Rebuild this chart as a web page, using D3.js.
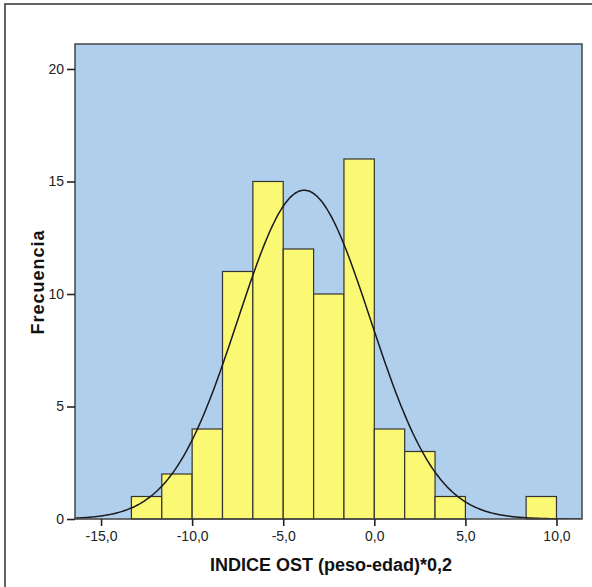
<!DOCTYPE html>
<html lang="es">
<head>
<meta charset="UTF-8">
<title>Histograma INDICE OST</title>
<script src="https://d3js.org/d3.v7.min.js"></script>
<style>
    body { margin: 0; background: #fff; }
    svg text { font-family: "Liberation Sans", Arial, sans-serif; }
    .axis text { font-size: 14px; fill: #222; }
    .axis line { stroke: #222; stroke-width: 1.6px; }
    .axis path { display: none; }
    .label { font-size: 18px; font-weight: bold; fill: #111; }
</style>
</head>
<body>
<svg id="canvas" width="592" height="587"></svg>
<script>
    // bins of 5/3 width, lower edges
    let binStart = [-13.333, -11.667, -10, -8.333, -6.667, -5, -3.333, -1.667, 0, 1.667, 3.333, 5, 6.667, 8.333];
    let binCount = [1, 2, 4, 11, 15, 12, 10, 16, 4, 3, 1, 0, 0, 1];
    let binWidth = 5 / 3;
    let xTicks = [-15, -10, -5, 0, 5, 10];
    let yTicks = [0, 5, 10, 15, 20];
    // normal curve parameters (media, desv. tip., N)
    let media = -3.85;
    let desv = 3.64;
    let nTotal = 80;

    let svg = d3.select('#canvas');
    let plotLeft = 75, plotRight = 582, plotTop = 44, plotBottom = 519;

    let xscale = d3.scaleLinear().domain([-16.43, 11.40]).range([plotLeft, plotRight]);
    let yscale = d3.scaleLinear().domain([0, 21.11]).range([plotBottom, plotTop]);

    // outer frame
    svg.append('rect')
        .attr('x', 5).attr('y', 4).attr('width', 620).attr('height', 620)
        .attr('fill', 'none').attr('stroke', '#333').attr('stroke-width', 1.5);

    svg.append('rect')
        .attr('x', plotLeft).attr('y', plotTop)
        .attr('width', plotRight - plotLeft).attr('height', plotBottom - plotTop)
        .attr('fill', '#AFCFED');

    svg.append('clipPath').attr('id', 'clip')
        .append('rect')
        .attr('x', plotLeft).attr('y', plotTop)
        .attr('width', plotRight - plotLeft).attr('height', plotBottom - plotTop);

    let bars = binStart.map(function (d, i) { return {x0: d, n: binCount[i]}; })
        .filter(function (d) { return d.n > 0; });

    svg.append('g').selectAll('rect')
        .data(bars)
        .enter()
        .append('rect')
        .attr('x', function (d) { return xscale(d.x0); })
        .attr('y', function (d) { return yscale(d.n); })
        .attr('width', function (d) { return xscale(d.x0 + binWidth) - xscale(d.x0); })
        .attr('height', function (d) { return yscale(0) - yscale(d.n); })
        .attr('fill', '#FBF873')
        .attr('stroke', '#333')
        .attr('stroke-width', 1.2);

    // normal curve from the mean and sd
    let xs = d3.range(0, 301).map(function (i) {
        return -16.43 + i * (11.40 + 16.43) / 300;
    });
    let curve = xs.map(function (x) {
        let z = (x - media) / desv;
        return {x: x, y: nTotal * binWidth / (desv * Math.sqrt(2 * Math.PI)) * Math.exp(-0.5 * z * z)};
    });
    let line_generator = d3.line()
        .x(function (d) { return xscale(d.x); })
        .y(function (d) { return yscale(d.y); })
        .curve(d3.curveBasis);
    svg.append('path')
        .attr('d', line_generator(curve))
        .attr('clip-path', 'url(#clip)')
        .attr('fill', 'none')
        .attr('stroke', '#1a1a1a')
        .attr('stroke-width', 1.5);

    // plot border
    svg.append('rect')
        .attr('x', plotLeft).attr('y', plotTop)
        .attr('width', plotRight - plotLeft).attr('height', plotBottom - plotTop)
        .attr('fill', 'none').attr('stroke', '#444').attr('stroke-width', 1.5);

    let comma = function (d) { return d3.format('.1f')(d).replace('.', ',').replace('−', '-'); };

    svg.append('g').attr('class', 'axis')
        .attr('transform', 'translate(0,' + plotBottom + ')')
        .call(d3.axisBottom(xscale).tickValues(xTicks).tickSize(7).tickPadding(5).tickFormat(comma));

    svg.append('g').attr('class', 'axis')
        .attr('transform', 'translate(' + plotLeft + ',0)')
        .call(d3.axisLeft(yscale).tickValues(yTicks).tickSize(8).tickPadding(3).tickFormat(d3.format('d')));

    svg.append('text').attr('class', 'label')
        .attr('x', 331).attr('y', 571)
        .attr('text-anchor', 'middle')
        .text('INDICE OST (peso-edad)*0,2');

    svg.append('text').attr('class', 'label')
        .attr('transform', 'translate(44,282) rotate(-90)')
        .attr('text-anchor', 'middle')
        .style('letter-spacing', '1px')
        .text('Frecuencia');
</script>
</body>
</html>
